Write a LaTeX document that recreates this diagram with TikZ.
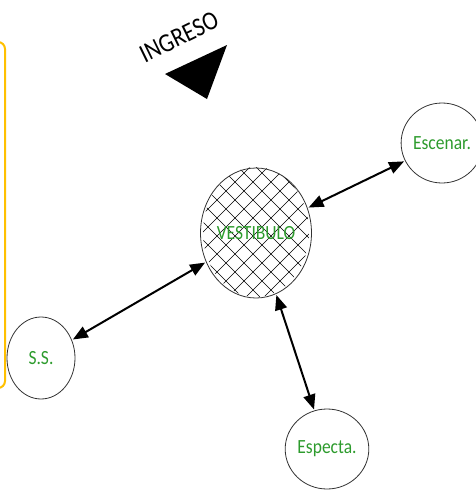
\documentclass[tikz,border=0pt]{standalone}
\usepackage{fontspec}
\setmainfont{Carlito}
\usetikzlibrary{shapes.geometric,arrows.meta}
\definecolor{lblgreen}{RGB}{45,155,45}
\definecolor{frameyellow}{RGB}{255,192,0}
\definecolor{rim}{RGB}{50,50,50}
\tikzset{
  room/.style={ellipse, draw=rim, line width=0.8pt, inner sep=0pt, text=lblgreen,
    font=\fontsize{17.5}{17.5}\selectfont},
  link/.style={line width=2pt, {Triangle[length=15pt,width=12pt]}-{Triangle[length=15pt,width=12pt]}, shorten <=1pt, shorten >=1pt},
  hatch/.style={line width=0.6pt, black}
}
\begin{document}
\begin{tikzpicture}[x=1pt,y=-1pt]
\useasboundingbox (0,0) rectangle (475,490);
% yellow frame edge
\begin{scope}
\clip (0,0) rectangle (475,490);
\draw[frameyellow, line width=2pt, rounded corners=7pt] (-60,42) rectangle (5,388);
\end{scope}
% hatching of the vestibule
\begin{scope}
\clip (256,232) ellipse [x radius=53pt, y radius=65pt];
\foreach \d in {-187,-169,...,187} {
  \draw[hatch] (256+\d-100,132) -- (256+\d+100,332);
}
\foreach \d in {-179,-161,...,187} {
  \draw[hatch] (256+\d+100,132) -- (256+\d-100,332);
}
\end{scope}
\node[room, minimum width=106pt, minimum height=130pt] (vest) at (256,233) {\scalebox{1}[1.15]{VESTIBULO}};
\node[room, minimum width=62pt, minimum height=80pt] (esc) at (442,143) {\scalebox{1}[1.15]{Escenar.}};
\node[room, minimum width=68pt, minimum height=82pt] (ss) at (41,358) {\scalebox{1}[1.15]{S.S.}};
\node[room, minimum width=68pt, minimum height=80pt] (esp) at (327,449) {\scalebox{1}[1.15]{Especta.}};
\draw[link] (vest) -- (esc);
\draw[link] (vest) -- (ss);
\draw[link] (vest) -- (esp);
% entrance
\node[rotate=26, font=\fontsize{23}{23}\selectfont, inner sep=0pt] (ingreso) at (179,37) {\scalebox{1}[1.15]{INGRESO}};
\fill[black] (165,74) -- (227,45) -- (207,99) -- cycle;
\end{tikzpicture}
\end{document}
